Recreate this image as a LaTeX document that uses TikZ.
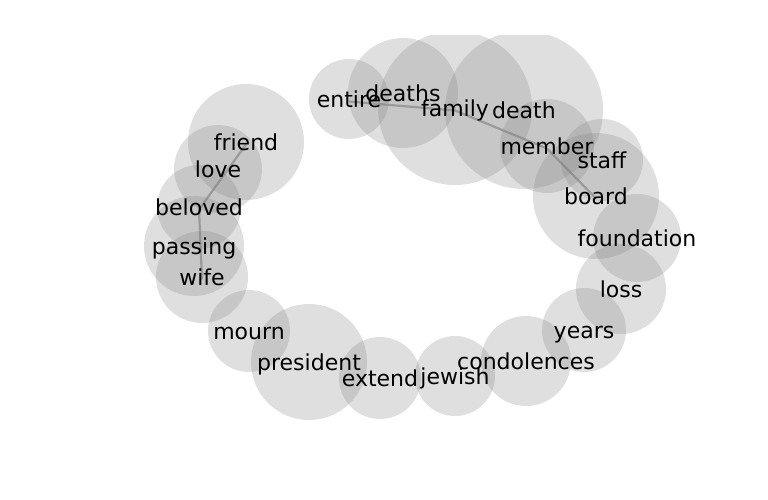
\documentclass[tikz,border=0pt]{standalone}
\usepackage{fontspec}
\setmainfont{DejaVu Sans}
\usetikzlibrary{backgrounds}

\def\wordlist{
	entire/349/99/40, deaths/403/93/55, family/455/108/77,
	death/524/110/79, member/547/146/47, staff/602/160/41,
	board/596/196/63, foundation/637/238/44, loss/621/289/45,
	years/584/330/42, condolences/526/361/45, jewish/455/376/40,
	extend/380/378/41, president/309/362/58, mourn/249/331/41,
	wife/202/277/46, passing/194/246/50, beloved/199/207/42,
	love/218/169/44, friend/246/142/58}

\begin{document}
\begin{tikzpicture}[
			x=1pt,y=-1pt,
			bubble/.style={
				fill=gray,
				fill opacity=0.25
			},
			word/.style={
				inner sep=0pt,
				text height=16.7pt,
				text depth=5.3pt,
				yshift=-2.5pt,
				font=\fontsize{22}{24}\selectfont
			},
			link/.style={
				draw=gray!62,
				line width=2.2pt
			}
			]
			
			\useasboundingbox (0,0) rectangle (768,500);
			
			% bubbles, clipped at the top edge of the axes
			\begin{scope}
				\clip (0,36) rectangle (768,500);
				\foreach \name/\x/\y/\r in \wordlist
				\fill[bubble] (\x,\y) circle (\r);
			\end{scope}
			
			% words
			\foreach \name/\x/\y/\r in \wordlist
			\node[word] (\name) at (\x,\y) {\name};
			
			\begin{pgfonlayer}{background}
				\draw[link] (entire.center) -- (family.center) -- (member.center) -- (board.center);
				\draw[link] (friend.center) -- (beloved.center) -- (wife.center);
			\end{pgfonlayer}
			
		\end{tikzpicture}
\end{document}
